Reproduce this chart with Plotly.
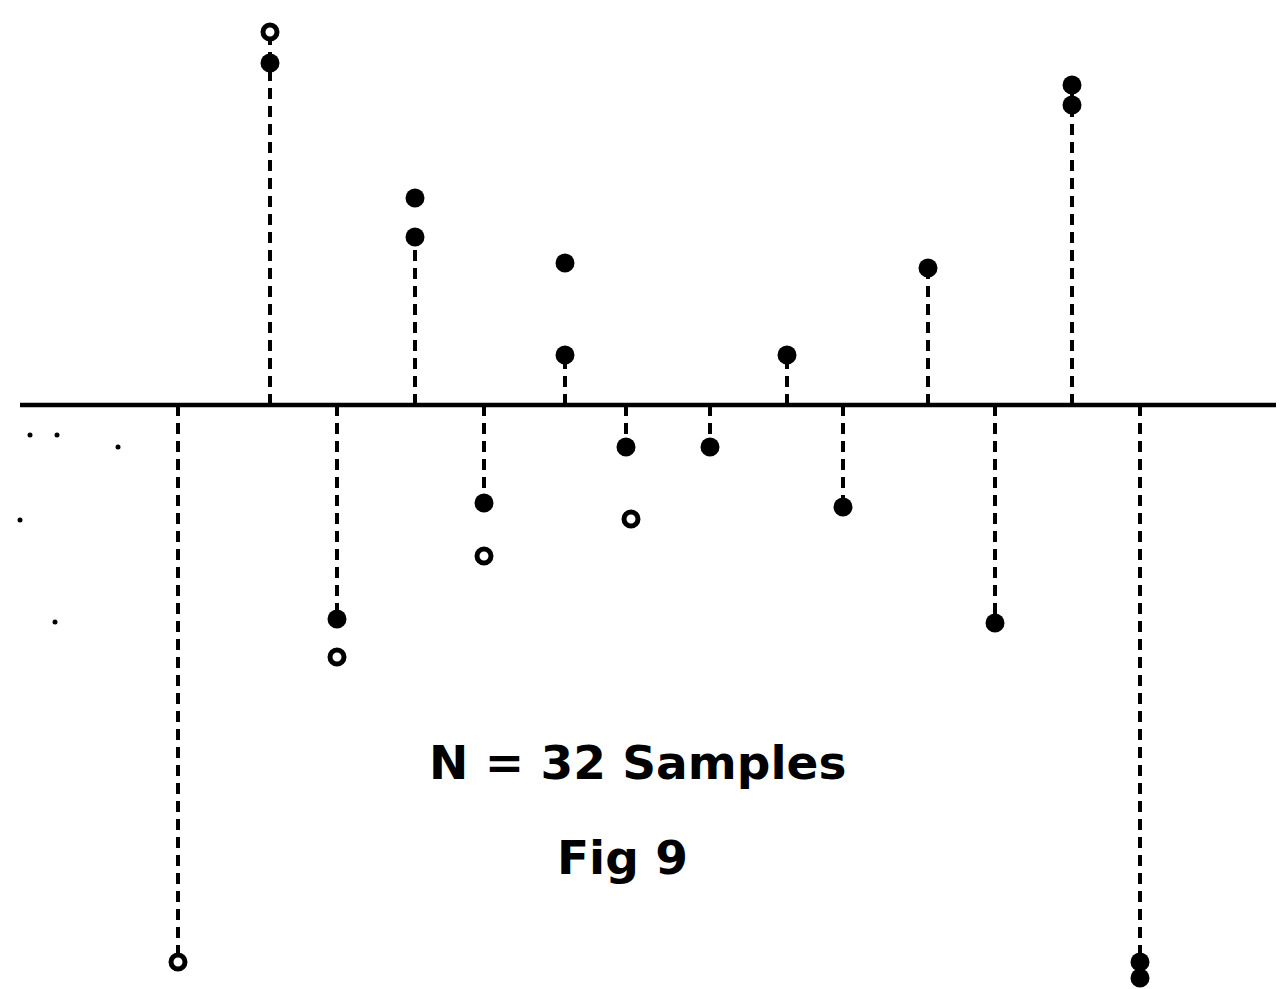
import plotly.graph_objects as go

# Stem positions (horizontal position, in chart units) and stem end values
stem_x = [178, 270, 337, 415, 484, 565, 626, 710, 787, 843, 928, 995, 1072, 1140]
stem_v = [-557, 370, -214, 168, -98, 50, -40, -40, 50, -100, 137, -218, 315, -565]

# Filled-dot samples
filled_x = [270, 337, 415, 415, 484, 565, 565, 626, 710, 787, 843, 928, 995, 1072, 1072, 1140, 1140]
filled_v = [342, -214, 207, 168, -98, 142, 50, -42, -42, 50, -102, 137, -218, 320, 300, -557, -573]

# Open-circle samples
open_x = [178, 270, 337, 484, 631]
open_v = [-557, 373, -252, -151, -114]

# Baseline extent
base_x = [20, 1290]
base_v = [0, 0]

# Stray scan specks
speck_x = [30, 57, 118, 20, 55]
speck_v = [-30, -30, -42, -115, -217]

labels = ["N = 32 Samples", "Fig 9"]
label_x = [637, 622]
label_v = [-357, -452]

sx, sy = [], []
for x, v in zip(stem_x, stem_v):
    sx += [x, x, None]
    sy += [0, v, None]

fig = go.Figure()
fig.add_trace(go.Scatter(x=sx, y=sy, mode="lines",
                         line=dict(color="black", width=4, dash="11px,7px"),
                         hoverinfo="skip", showlegend=False))
fig.add_trace(go.Scatter(x=base_x, y=base_v, mode="lines",
                         line=dict(color="black", width=4.5), showlegend=False))
fig.add_trace(go.Scatter(x=filled_x, y=filled_v, mode="markers",
                         marker=dict(symbol="circle", size=19, color="black",
                                     line=dict(width=0)), showlegend=False))
fig.add_trace(go.Scatter(x=open_x, y=open_v, mode="markers",
                         marker=dict(symbol="circle", size=14, color="white",
                                     line=dict(color="black", width=5)), showlegend=False))
fig.add_trace(go.Scatter(x=speck_x, y=speck_v, mode="markers",
                         marker=dict(symbol="circle", size=5, color="black"),
                         showlegend=False))

for t, x, v in zip(labels, label_x, label_v):
    fig.add_annotation(x=x, y=v, xref="x", yref="y", text="<b>" + t + "</b>", showarrow=False,
                       font=dict(family="DejaVu Sans", size=47, color="black"))

fig.update_layout(width=1284, height=989, autosize=False,
                  margin=dict(l=0, r=0, t=0, b=0),
                  paper_bgcolor="white", plot_bgcolor="white")
# page body has an 8px offset; ranges chosen so chart units line up with the reference
fig.update_xaxes(range=[8, 1292], visible=False)
fig.update_yaxes(range=[-592, 397], visible=False)

fig.write_html("out.html")
